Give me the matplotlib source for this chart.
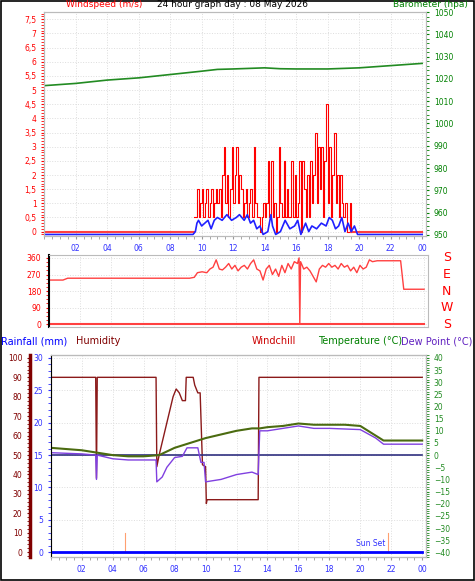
import matplotlib
matplotlib.use("Agg")
import matplotlib.pyplot as plt
import numpy as np
from matplotlib.ticker import MultipleLocator, FuncFormatter

# ---------------- data ----------------
baro_h = [0, 2, 4, 6, 8, 10, 11, 12, 14, 15, 16, 18, 20, 22, 24]
baro_v = [1017, 1018, 1019.5, 1020.5, 1022, 1023.5, 1024.3, 1024.5, 1025, 1024.6, 1024.5, 1024.5, 1025, 1026, 1027]

gust_start = 9.5
gust_step = 0.1
gust_v = [0.5, 0.5, 1.5, 0.5, 1.0, 1.5, 0.5, 1.0, 1.5, 0.5, 1.0, 1.5, 0.5, 1.0, 1.5, 1.0, 1.5, 0.5, 2.0, 3.0,
          1.0, 2.0, 0.5, 1.5, 3.0, 1.0, 2.0, 3.0, 1.0, 2.0, 1.5, 0.5, 1.0, 1.5, 0.5, 1.0, 1.5, 0.5, 3.0, 1.0,
          0.5, 0.5, 0.0, 0.5, 1.0, 0.5, 1.0, 2.5, 0.5, 2.5, 0.5, 1.0, 0.0, 0.5, 3.0, 1.0, 0.5, 2.5, 0.5, 1.5,
          0.5, 0.5, 2.5, 0.5, 2.0, 0.5, 1.0, 2.5, 0.0, 2.5, 1.5, 0.5, 2.0, 0.5, 2.5, 1.0, 2.0, 3.5, 1.0, 3.0,
          1.5, 3.0, 0.5, 2.5, 4.5, 1.0, 3.0, 0.5, 2.0, 3.5, 1.0, 2.0, 0.5, 2.0, 1.0, 0.5, 1.0, 0.0, 0.0, 1.0, 0.0]
avg_h = [0, 9.45, 9.6, 9.7, 9.8, 10.0, 10.2, 10.4, 10.6, 10.8, 11.0, 11.3, 11.6, 11.9, 12.2, 12.4, 12.7, 12.9, 13.1,
         13.3, 13.5, 13.7, 13.9, 14.2, 14.4, 14.5, 14.7, 15.0, 15.3, 15.6, 15.9, 16.1, 16.3, 16.6, 16.8, 17.0, 17.3,
         17.6, 17.9, 18.1, 18.3, 18.5, 18.7, 18.9, 19.1, 19.3, 19.5, 19.7, 19.9, 20.1, 24]
avg_v = [-0.1, -0.1, 0.0, 0.3, 0.4, 0.2, 0.3, 0.4, 0.1, 0.4, 0.5, 0.4, 0.6, 0.4, 0.5, 0.6, 0.4, 0.6, 0.3,
         0.4, 0.1, 0.2, -0.1, 0.0, 0.6, 0.2, -0.1, 0.0, 0.4, 0.1, 0.2, 0.4, -0.1, 0.3, 0.0, 0.2, 0.1,
         0.3, 0.2, 0.5, 0.4, 0.1, 0.2, 0.5, 0.0, 0.3, 0.0, 0.2, -0.1, -0.1, -0.1]

dir_h = [0, 0.9, 1.2, 9.0, 9.3, 9.5, 9.8, 10.1, 10.3, 10.5, 10.7, 10.9, 11.1, 11.3, 11.5, 11.7, 11.9, 12.1, 12.3,
         12.5, 12.7, 12.9, 13.1, 13.3, 13.5, 13.7, 13.9, 14.1, 14.3, 14.5, 14.7, 14.9, 15.1, 15.3, 15.5, 15.7,
         15.9, 16.0, 16.05, 16.1, 16.3, 16.5, 16.7, 16.9, 17.1, 17.3, 17.5, 17.7, 17.9, 18.1, 18.3, 18.5, 18.7,
         18.9, 19.1, 19.3, 19.5, 19.7, 19.9, 20.1, 20.3, 20.5, 20.7, 21.0, 22.5, 22.7, 24]
dir_v = [240, 240, 250, 250, 255, 280, 285, 280, 300, 310, 350, 300, 295, 310, 330, 300, 320, 290, 310,
         320, 300, 330, 350, 300, 290, 240, 300, 320, 270, 300, 260, 320, 280, 330, 300, 340,
         330, 360, 0, 340, 300, 310, 290, 260, 230, 300, 320, 310, 330, 310, 320, 300, 330,
         310, 320, 290, 310, 280, 320, 300, 310, 350, 340, 345, 345, 190, 190]

hum_h = [0, 2.9, 2.95, 3.0, 6.8, 6.85, 7.0, 7.3, 7.6, 7.9, 8.1, 8.3, 8.5, 8.7, 8.75, 9.2, 9.3, 9.5, 9.65, 9.8, 10.0, 10.05, 10.1, 13.4, 13.45, 24]
hum_v = [90, 90, 38, 90, 90, 44, 50, 60, 70, 80, 84, 82, 78, 78, 90, 90, 86, 82, 82, 45, 44, 25, 27, 27, 90, 90]

temp_h = [0, 2, 3, 4, 5, 6, 7, 8, 9, 10, 11, 12, 13, 13.5, 14, 15, 16, 17, 18, 19, 20, 21, 21.5, 24]
temp_v = [3, 2, 1, 0, -0.5, -0.5, 0, 3, 5, 7, 8.5, 10, 11, 11, 11.5, 12, 13, 12.5, 12.5, 12.5, 12, 8, 6, 6]

dew_h = [0, 2, 2.9, 2.95, 3.0, 4, 5, 6, 6.8, 6.85, 7.2, 7.5, 8, 8.5, 8.8, 9.5, 9.7, 9.9, 10.0, 11, 12, 13, 13.4, 13.5, 14, 15, 16, 17, 18, 20, 21, 21.5, 24]
dew_v = [1, 0.5, 0, -10, 0, -1.5, -2, -2, -2, -11, -9, -5, -1, -0.5, 3, 3, -3, -3, -11, -10, -8, -7, -8, 10, 10, 11, 12, 11, 11, 10.5, 7, 4.5, 4.5]

chill_h = [0, 24]
chill_v = [0, 0]
rain_h = [0, 24]
rain_v = [0, 0]
sun_h = [4.8, 21.8]

hour_ticks = list(range(2, 25, 2))
hour_labels = ["%02d" % (h % 24) for h in hour_ticks]

# ---------------- figure ----------------
fig = plt.figure(figsize=(4.75, 5.81), dpi=100)
plt.rcParams['font.family'] = ['DejaVu Sans']
fig.patches.append(plt.Rectangle((0.002, 0.002), 0.996, 0.996, transform=fig.transFigure,
                                 fill=False, ec='black', lw=1.2))
comma = FuncFormatter(lambda v, p: ("%g" % v).replace('.', ','))
fs = 5.5
blue_lab = '#3030ff'

def style_x(ax):
    ax.set_xlim(0, 24.25)
    ax.set_xticks(hour_ticks)
    ax.set_xticklabels(hour_labels, color=blue_lab, fontsize=fs)
    ax.xaxis.set_minor_locator(MultipleLocator(0.5))
    ax.tick_params(axis='x', which='both', length=2, color='#999999')
    ax.grid(True, color='#dddddd', ls=':', lw=0.7)
    for s in ax.spines.values():
        s.set_color('#bbbbbb')

# top panel
ax1 = fig.add_axes([0.093, 0.594, 0.804, 0.385])
style_x(ax1)
ax1.set_ylim(-0.15, 7.75)
ax1.yaxis.set_major_locator(MultipleLocator(0.5))
ax1.yaxis.set_minor_locator(MultipleLocator(0.1))
ax1.yaxis.set_major_formatter(comma)
ax1.tick_params(axis='y', which='both', colors='red', labelsize=fs, length=2)
gh = gust_start + gust_step * np.arange(len(gust_v))
ax1.plot([0, gust_start], [0, 0], color='#ff4040', lw=1.5)
ax1.step(gh, gust_v, where='post', color='red', lw=0.8)
ax1.plot([gh[-1], 24], [0, 0], color='#ff4040', lw=1.5)
ax1.plot(avg_h, avg_v, color='#2020ff', lw=1.2)
ax1b = ax1.twinx()
ax1b.set_ylim(949.5, 1050)
ax1b.yaxis.set_major_locator(MultipleLocator(10))
ax1b.yaxis.set_minor_locator(MultipleLocator(2))
ax1b.tick_params(axis='y', which='both', colors='green', labelsize=fs, length=2)
ax1b.plot(baro_h, baro_v, color='#228b22', lw=1.2)
for s in ax1b.spines.values():
    s.set_color('#bbbbbb')
fig.text(0.22, 0.9995, "Windspeed (m/s)", color='red', fontsize=6.5, ha='center', va='top')
fig.text(0.49, 0.9995, "24 hour graph day : 08 May 2026", color='black', fontsize=6.5, ha='center', va='top')
fig.text(0.985, 0.9995, "Barometer (hpa)", color='green', fontsize=6.5, ha='right', va='top')

# middle panel
ax2 = fig.add_axes([0.103, 0.437, 0.798, 0.124])
style_x(ax2)
ax2.set_xticklabels([])
ax2.tick_params(axis='x', which='both', length=0)
ax2.set_ylim(-16, 376)
ax2.set_yticks([0, 90, 180, 270, 360])
ax2.yaxis.set_minor_locator(MultipleLocator(22.5))
ax2.tick_params(axis='y', which='both', colors='red', labelsize=fs, length=2)
ax2.spines['left'].set_color('black')
ax2.spines['left'].set_linewidth(1.5)
ax2.plot(dir_h, dir_v, color='#ff4040', lw=1.0)
ax2.plot([0, 24], [0, 0], color='#ff4040', lw=1.5)
for lab, yv in zip(["S", "E", "N", "W", "S"], [360, 270, 180, 90, 0]):
    ax2.text(1.05, yv, lab, color='red', fontsize=9, ha='center', va='center',
             transform=ax2.get_yaxis_transform())

# bottom panel
ax3 = fig.add_axes([0.107, 0.041, 0.79, 0.348])
style_x(ax3)
ax3.set_ylim(-0.77, 30.46)
ax3.yaxis.set_major_locator(MultipleLocator(5))
ax3.yaxis.set_minor_locator(MultipleLocator(1))
ax3.tick_params(axis='y', which='both', colors=blue_lab, labelsize=fs, length=2)
ax3.plot(rain_h, rain_v, color='#0000ff', lw=2.0, zorder=5)
for sh in sun_h:
    ax3.plot([sh, sh], [0, 3], color='#ffa070', lw=0.8)
ax3.text(21.65, 0.6, "Sun Set", color=blue_lab, fontsize=fs, ha='right', va='bottom')

axh = ax3.twinx()
axh.set_ylim(-2.6, 101.5)
axh.yaxis.set_ticks_position('left')
axh.spines['left'].set_position(('axes', -0.055))
axh.spines['left'].set_color('#800000')
axh.spines['left'].set_linewidth(2.5)
axh.yaxis.set_major_locator(MultipleLocator(10))
axh.yaxis.set_minor_locator(MultipleLocator(2))
axh.tick_params(axis='y', which='both', colors='#800000', labelsize=fs, length=2)
axh.plot(hum_h, hum_v, color='#8b1a1a', lw=1.0)

axt = ax3.twinx()
axt.set_ylim(-42, 41.2)
axt.yaxis.set_major_locator(MultipleLocator(5))
axt.yaxis.set_minor_locator(MultipleLocator(1))
axt.tick_params(axis='y', which='both', colors='#228b22', labelsize=fs, length=2)
axt.plot(chill_h, chill_v, color='#303080', lw=1.2)
axt.plot(temp_h, temp_v, color='#4b6b10', lw=1.5)
axt.plot(dew_h, dew_v, color='#8040e0', lw=1.0)
for a in (axh, axt):
    for k in ('top', 'bottom', 'right'):
        a.spines[k].set_color('#bbbbbb')

fig.text(0.003, 0.413, "Rainfall (mm)", color='blue', fontsize=7, ha='left', va='center')
fig.text(0.16, 0.413, "Humidity", color='#800000', fontsize=7, ha='left', va='center')
fig.text(0.53, 0.413, "Windchill", color='#cc0000', fontsize=7, ha='left', va='center')
fig.text(0.67, 0.413, "Temperature (°C)", color='green', fontsize=7, ha='left', va='center')
fig.text(0.845, 0.413, "Dew Point (°C)", color='#6020c0', fontsize=7, ha='left', va='center')

fig.savefig("out.png", dpi=100)
